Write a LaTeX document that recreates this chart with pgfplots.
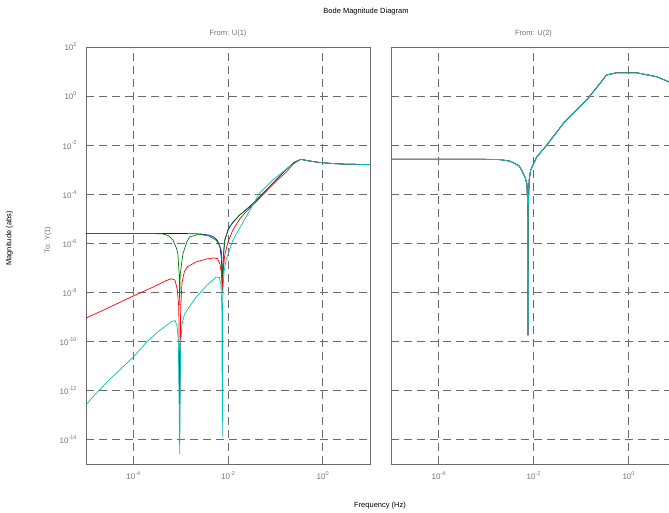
\documentclass[border=0pt]{standalone}
\usepackage{fontspec}
\setmainfont{Liberation Sans}
\usepackage{pgfplots}
\usepackage{pgfplotstable}
\pgfplotsset{compat=1.18}

\definecolor{axgray}{gray}{0.42}
\definecolor{txtgray}{gray}{0.45}
\definecolor{mgreen}{rgb}{0,0.5,0}
\definecolor{mcyan}{rgb}{0,0.75,0.75}

% From U(2): all four channels coincide
\pgfplotstableread{
  f        m
  1e-5     2.63e-3
  1e-3     2.63e-3
  1.95e-3  2.57e-3
  3.16e-3  2.24e-3
  3.8e-3   1.91e-3
  5.01e-3  1.41e-3
  5.62e-3  9.55e-4
  6.6e-3   5.01e-4
  7.24e-3  2.75e-4
  7.6e-3   3.16e-5
  7.67e-3  1.74e-10
  7.76e-3  3.16e-5
  8.13e-3  3.98e-4
  8.71e-3  9.55e-4
  1.17e-2  3.31e-3
  1.9e-2   1e-2
  4.27e-2  7.76e-2
  0.132    0.692
  0.347    7.24
  0.562    8.91
  1.48     8.91
  3.89     6.17
  7.08     3.8
  10       2.82
}\rightdata

\newcommand{\expolabel}{%
  \pgfmathtruncatemacro\expo{round(\tick)}%
  10\raisebox{0.95ex}{\fontsize{5.5}{6}\selectfont\expo}}

\pgfplotsset{
  every axis/.append style={
    scale only axis, height=417pt,
    xmin=1e-5, xmax=10, ymin=1e-15, ymax=100,
    xtick={1e-4,1e-2,1},
    ytick={1e-14,1e-12,1e-10,1e-8,1e-6,1e-4,1e-2,1,100},
    grid=major,
    major grid style={axgray, dash pattern=on 8pt off 5pt, line width=0.6pt},
    axis line style={axgray, line width=0.9pt},
    major tick style={axgray, line width=0.6pt},
    major tick length=5pt, tick align=inside,
    xtick pos=bottom, ytick pos=left,
    ticklabel style={txtgray, font=\fontsize{8}{9}\selectfont},
    xticklabel style={yshift=-4pt},
    yticklabel style={xshift=-6pt},
  },
  crv/.style={line width=0.7pt, mark=none},
}

\begin{document}
\begin{tikzpicture}
\useasboundingbox (0pt,0pt) rectangle (669pt,513pt);

% left panel: From U(1)
\begin{loglogaxis}[width=284pt, at={(86pt,49pt)}, anchor=south west,
  log basis x=10, log basis y=10,
  xminorticks=false, yminorticks=false,
  xticklabel={\expolabel}, yticklabel={\expolabel}]
  % blue
  \addplot[crv, blue] coordinates {
    (1e-5,2.51e-6) (1e-4,2.51e-6) (1e-3,2.51e-6) (2.51e-3,2.4e-6)
    (3.98e-3,2.14e-6) (5.01e-3,1.78e-6) (6.03e-3,1.26e-6) (6.76e-3,7.08e-7)
    (7.24e-3,2.51e-7) (7.6e-3,2.51e-8) (7.94e-3,2.51e-7) (8.51e-3,1.26e-6)
    (1e-2,3.55e-6) (1.26e-2,7.08e-6) (1.74e-2,1.38e-5) (2.51e-2,2.51e-5)
    (3.98e-2,5.62e-5) (6.31e-2,1.41e-4) (0.1,3.55e-4) (0.158,8.91e-4)
    (0.251,2.0e-3) (0.347,2.63e-3) (0.501,2.29e-3) (0.794,2.0e-3)
    (1.585,1.78e-3) (3.16,1.66e-3) (10,1.62e-3)
  };
  % green
  \addplot[crv, mgreen] coordinates {
    (1e-5,2.51e-6) (1e-4,2.51e-6) (2.51e-4,2.51e-6) (4.17e-4,2.4e-6)
    (5.62e-4,2.0e-6) (6.92e-4,1.32e-6) (8.13e-4,6.3e-7) (8.71e-4,3.8e-7)
    (9.33e-4,5e-8) (9.55e-4,3e-9) (9.77e-4,5e-8) (1.047e-3,1.5e-7)
    (1.12e-3,3.8e-7) (1.35e-3,1.15e-6) (1.55e-3,1.82e-6) (2.51e-3,2.34e-6)
    (4.07e-3,1.95e-6) (5.62e-3,1.32e-6) (6.6e-3,8e-7) (7.24e-3,5.1e-7)
    (7.6e-3,1e-8) (7.94e-3,2.5e-7) (8.51e-3,1.32e-6) (1.07e-2,4.68e-6)
    (1.74e-2,1.38e-5) (2.51e-2,2.51e-5) (3.31e-2,3.55e-5) (3.98e-2,5.62e-5)
    (6.31e-2,1.41e-4) (0.1,3.55e-4) (0.158,8.91e-4) (0.251,2.0e-3)
    (0.347,2.63e-3) (0.501,2.29e-3) (0.794,2.0e-3) (1.585,1.78e-3)
    (3.16,1.66e-3) (10,1.62e-3)
  };
  % red
  \addplot[crv, red] coordinates {
    (1e-5,8.91e-10) (2.51e-5,2.0e-9) (1e-4,7.08e-9) (2.51e-4,1.58e-8)
    (5.01e-4,3.02e-8) (6.31e-4,3.55e-8) (7.59e-4,3.16e-8) (8.51e-4,1.26e-8)
    (9.12e-4,2.51e-9) (9.55e-4,7.9e-14) (1e-3,2.51e-9) (1.07e-3,2.51e-8)
    (1.2e-3,7.08e-8) (1.41e-3,1.12e-7) (2.14e-3,1.74e-7) (3.55e-3,2.29e-7)
    (5.01e-3,2.51e-7) (6.03e-3,2.34e-7) (6.76e-3,1.41e-7) (7.24e-3,6.3e-8)
    (7.6e-3,1.26e-8) (7.94e-3,7.94e-8) (8.51e-3,3.16e-7) (1e-2,1.12e-6)
    (1.26e-2,3.39e-6) (1.78e-2,1e-5) (2.4e-2,1.9e-5) (3.98e-2,5.01e-5)
    (6.31e-2,1.26e-4) (0.1,3.16e-4) (0.17,7.94e-4) (0.251,1.91e-3)
    (0.347,2.63e-3) (0.501,2.29e-3) (0.794,2.0e-3) (1.585,1.78e-3)
    (3.16,1.66e-3) (10,1.62e-3)
  };
  % cyan
  \addplot[crv, mcyan] coordinates {
    (1e-5,2.63e-13) (1.585e-5,7.08e-13) (3.16e-5,2.82e-12) (1e-4,2.29e-11)
    (1.9e-4,9.33e-11) (3.63e-4,2.82e-10) (6.31e-4,6.31e-10) (7.59e-4,7.08e-10)
    (8.32e-4,4.47e-10) (8.91e-4,1.26e-10) (9.55e-4,2.51e-15) (1e-3,7.94e-11)
    (1.07e-3,5.01e-10) (1.2e-3,1.26e-9) (1.585e-3,2.82e-9) (2.14e-3,6.46e-9)
    (3.55e-3,1.9e-8) (5.62e-3,4.17e-8) (6.6e-3,3.98e-8) (7.08e-3,2e-8)
    (7.41e-3,2.51e-9) (7.6e-3,1.26e-14) (7.76e-3,1e-8) (8.32e-3,7.94e-8)
    (9.12e-3,2.04e-7) (1.26e-2,1.32e-6) (2.4e-2,1.17e-5) (4.57e-2,1.07e-4)
    (8.71e-2,3.72e-4) (0.195,1.29e-3) (0.347,2.63e-3) (0.501,2.29e-3)
    (0.794,2.0e-3) (1.585,1.78e-3) (3.16,1.66e-3) (10,1.62e-3)
  };
\end{loglogaxis}

% right panel: From U(2)
\begin{loglogaxis}[width=285pt, at={(391pt,49pt)}, anchor=south west,
  log basis x=10, log basis y=10,
  xminorticks=false, yminorticks=false,
  xticklabel={\expolabel}, yticklabels={}]
  \addplot[crv, blue] table[x=f, y=m] {\rightdata};
  \addplot[crv, mgreen] table[x=f, y=m] {\rightdata};
  \addplot[crv, red] table[x=f, y=m] {\rightdata};
  \addplot[crv, mcyan, line width=0.9pt] table[x=f, y=m] {\rightdata};
\end{loglogaxis}

\node[font=\fontsize{7.5}{9}\selectfont] at (366pt,501pt) {Bode Magnitude Diagram};
\node[font=\fontsize{7.5}{9}\selectfont, txtgray] at (228pt,479pt) {From: U(1)};
\node[font=\fontsize{7.5}{9}\selectfont, txtgray] at (533.5pt,479pt) {From: U(2)};
\node[font=\fontsize{7.5}{9}\selectfont] at (380pt,7pt) {Frequency (Hz)};
\node[font=\fontsize{7.5}{9}\selectfont, rotate=90] at (9.5pt,274.5pt) {Magnitude (abs)};
\node[font=\fontsize{7.5}{9}\selectfont, rotate=90, txtgray] at (48pt,273pt) {To: Y(1)};
\end{tikzpicture}
\end{document}
